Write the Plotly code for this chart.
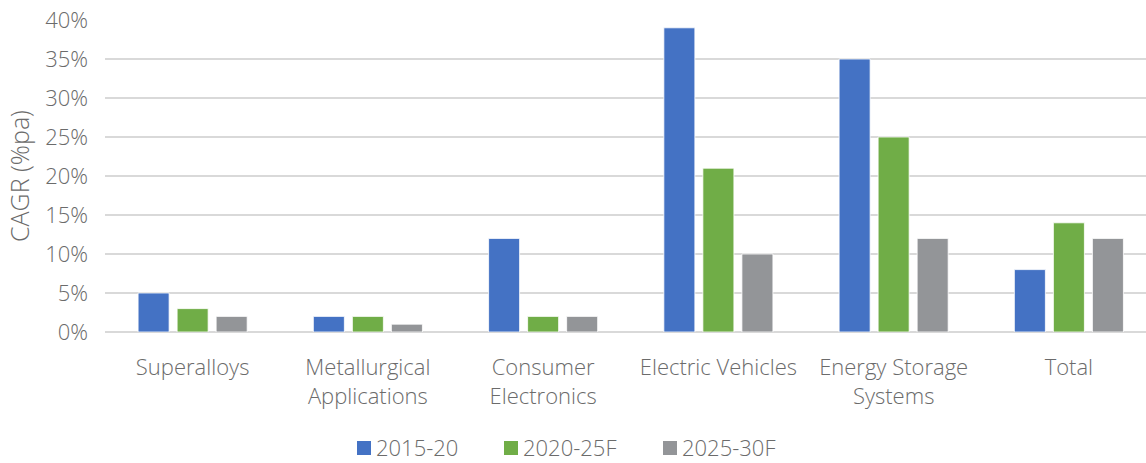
import plotly.graph_objects as go

# Nickel demand growth by end use, compound annual growth rates (%)
categories = ["Superalloys", "Metallurgical<br>Applications", "Consumer<br>Electronics",
              "Electric Vehicles", "Energy Storage<br>Systems", "Total"]
series_names = ["2015-20", "2020-25F", "2025-30F"]
cagr_2015_20 = [5, 2, 12, 39, 35, 8]
cagr_2020_25f = [3, 2, 2, 21, 25, 14]
cagr_2025_30f = [2, 1, 2, 10, 12, 12]
y_ticks = [0, 5, 10, 15, 20, 25, 30, 35, 40]
y_tick_labels = [f"{v}%" for v in y_ticks]

colors = ["#4472C4", "#70AD47", "#939598"]
text_color = "#6b6b6b"
font_family = "Open Sans"

# page geometry (px)
W, H = 1146, 463
M_L, M_R, M_T, M_B = 105, 0, 20, 131
PLOT_W = W - M_L - M_R
PLOT_H = H - M_T - M_B


def light_font(size):
    return dict(family=font_family, size=size, color=text_color, weight=300)


def px_to_paper_x(px):
    return (px - M_L) / PLOT_W


def px_to_paper_y(py):
    return (H - M_B - py) / PLOT_H


fig = go.Figure()
for name, vals, col in zip(series_names, [cagr_2015_20, cagr_2020_25f, cagr_2025_30f], colors):
    fig.add_trace(go.Bar(
        name=name, x=categories, y=vals,
        marker=dict(color=col, line=dict(color="white", width=0.8)),
        showlegend=False,
    ))

# legend row below the chart: swatch + label for each series
legend_starts = [357, 504, 663]
swatch = 14
legend_mid_y = 448
for name, col, x0 in zip(series_names, colors, legend_starts):
    fig.add_shape(
        type="rect", xref="paper", yref="paper",
        x0=px_to_paper_x(x0), x1=px_to_paper_x(x0 + swatch),
        y0=px_to_paper_y(legend_mid_y + swatch / 2), y1=px_to_paper_y(legend_mid_y - swatch / 2),
        fillcolor=col, line=dict(width=0),
    )
    fig.add_annotation(
        text=name, xref="paper", yref="paper",
        x=px_to_paper_x(x0 + swatch + 4), y=px_to_paper_y(legend_mid_y - 1),
        xanchor="left", yanchor="middle", showarrow=False, borderpad=0,
        font=light_font(22),
    )

fig.update_layout(
    width=W, height=H,
    margin=dict(l=M_L, r=M_R, t=M_T, b=M_B, autoexpand=False),
    paper_bgcolor="white", plot_bgcolor="white",
    barmode="group", bargap=0.332, bargroupgap=0.205,
    font=light_font(22),
    showlegend=False,
    xaxis=dict(
        range=[-0.5, 5.44], showgrid=False, showline=False, ticks="",
        tickfont=light_font(22), automargin=False,
        ticklabelstandoff=20,
    ),
    yaxis=dict(
        range=[0, 40], tickvals=y_ticks, ticktext=y_tick_labels,
        showgrid=True, gridcolor="#d9d9d9", gridwidth=1.5,
        zeroline=True, zerolinecolor="#d9d9d9", zerolinewidth=1.5,
        showline=False, ticks="", automargin=False,
        tickfont=light_font(22),
        ticklabelstandoff=16,
        title=dict(text="CAGR (%pa)", standoff=8, font=light_font(25)),
    ),
)

fig.write_html("out.html")
